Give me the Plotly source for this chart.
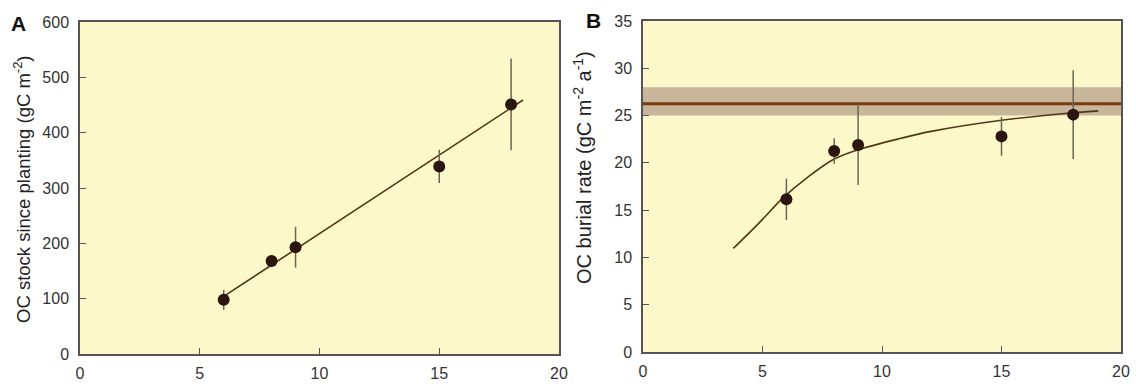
import plotly.graph_objects as go

# ---- Panel A data ----
age_years = [6, 8, 9, 15, 18]
oc_stock = [98, 168, 193, 339, 451]
oc_stock_err = [18, 11, 37, 30, 83]
fit_a_x = [6.0, 18.5]
fit_a_y = [104, 459]

# ---- Panel B data ----
burial_rate = [16.15, 21.25, 21.9, 22.8, 25.1]
burial_rate_err = [2.2, 1.35, 4.25, 2.05, 4.7]
curve_b_x = [3.78, 4.8, 5.9, 6.9, 8.0, 8.9, 10.8, 12.0, 15.0, 18.0, 19.05]
curve_b_y = [10.96, 13.5, 16.4, 18.5, 20.4, 21.3, 22.6, 23.3, 24.5, 25.3, 25.5]
mean_rate = 26.25
band_low, band_high = 25.0, 28.0

x_ticks = [0, 5, 10, 15, 20]
ya_ticks = [0, 100, 200, 300, 400, 500, 600]
yb_ticks = [0, 5, 10, 15, 20, 25, 30, 35]

BG = "#fdf8c9"
DOT = "#2b1510"
ERR = "#6e6550"
FIT = "#4f3817"
FONT = "Liberation Sans, Arial, sans-serif"
W, H = 1136, 387

fig = go.Figure()

fig.add_trace(go.Scatter(x=fit_a_x, y=fit_a_y, mode="lines",
                         line=dict(color=FIT, width=1.6),
                         xaxis="x", yaxis="y", showlegend=False))
fig.add_trace(go.Scatter(x=age_years, y=oc_stock, mode="markers",
                         marker=dict(size=12, color=DOT),
                         error_y=dict(type="data", array=oc_stock_err, color=ERR,
                                      thickness=1.5, width=0),
                         xaxis="x", yaxis="y", showlegend=False))

fig.add_trace(go.Scatter(x=curve_b_x, y=curve_b_y, mode="lines",
                         line=dict(color=FIT, width=1.6, shape="spline"),
                         xaxis="x2", yaxis="y2", showlegend=False))
fig.add_trace(go.Scatter(x=age_years, y=burial_rate, mode="markers",
                         marker=dict(size=12, color=DOT),
                         error_y=dict(type="data", array=burial_rate_err, color=ERR,
                                      thickness=1.5, width=0),
                         xaxis="x2", yaxis="y2", showlegend=False))

fig.add_shape(type="rect", xref="x2", yref="y2", x0=x_ticks[0], x1=x_ticks[-1],
              y0=band_low, y1=band_high, fillcolor="#c7b699", line=dict(width=0),
              layer="below")
fig.add_shape(type="line", xref="x2", yref="y2", x0=x_ticks[0], x1=x_ticks[-1],
              y0=mean_rate, y1=mean_rate, line=dict(color="#7a3a12", width=3),
              layer="below")

axis_common = dict(
    showgrid=False, zeroline=False, showline=True, mirror=True,
    linecolor="#555555", linewidth=1.5, ticks="inside", ticklen=6,
    tickcolor="#555555", tickwidth=1.2,
    tickfont=dict(family=FONT, size=16, color="#333333"),
    automargin=False,
)

fig.update_layout(
    width=W, height=H,
    margin=dict(l=0, r=0, t=0, b=0),
    paper_bgcolor="white",
    plot_bgcolor=BG,
    xaxis=dict(domain=[80 / W, 559 / W], range=[0, 20], tickvals=x_ticks,
               anchor="y", ticklabelstandoff=4, **axis_common),
    yaxis=dict(domain=[1 - 354 / H, 1 - 22 / H], range=[0, 600], tickvals=ya_ticks,
               anchor="x", ticklabelstandoff=6, **axis_common),
    xaxis2=dict(domain=[643 / W, 1121 / W], range=[0, 20], tickvals=x_ticks,
                anchor="y2", ticklabelstandoff=4, **axis_common),
    yaxis2=dict(domain=[1 - 352 / H, 1 - 21 / H], range=[0, 35], tickvals=yb_ticks,
                anchor="x2", ticklabelstandoff=6, **axis_common),
)

fig.add_annotation(text="OC stock since planting (gC m<sup>-2</sup>)", textangle=-90,
                   xref="paper", yref="paper", x=22 / W, y=1 - 189 / H,
                   showarrow=False, font=dict(family=FONT, size=18.5, color="#222222"),
                   xanchor="center", yanchor="middle")
fig.add_annotation(text="OC burial rate (gC m<sup>-2</sup> a<sup>-1</sup>)", textangle=-90,
                   xref="paper", yref="paper", x=582 / W, y=1 - 168 / H,
                   showarrow=False, font=dict(family=FONT, size=20, color="#222222"),
                   xanchor="center", yanchor="middle")
fig.add_annotation(text="<b>A</b>", xref="paper", yref="paper", x=18 / W, y=1 - 23 / H,
                   showarrow=False, font=dict(family=FONT, size=21, color="#111111"),
                   xanchor="center", yanchor="middle")
fig.add_annotation(text="<b>B</b>", xref="paper", yref="paper", x=593 / W, y=1 - 21 / H,
                   showarrow=False, font=dict(family=FONT, size=21, color="#111111"),
                   xanchor="center", yanchor="middle")

fig.write_html("out.html",
               config={"displayModeBar": False},
               post_script="document.body.style.margin='0';"
                           "document.body.style.overflow='hidden';")
